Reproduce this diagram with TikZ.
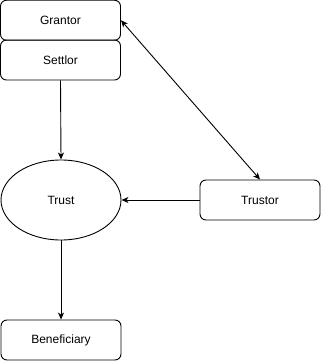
\documentclass[tikz,border=0pt]{standalone}
\usepackage{fontspec}
\setmainfont{Liberation Sans}
\usetikzlibrary{arrows.meta,shapes.geometric}
\begin{document}
\begin{tikzpicture}[x=1pt,y=-1pt,
  box/.style={draw,rounded corners=6pt,minimum width=120pt,minimum height=40pt,inner sep=0pt,line width=0.9pt,font=\fontsize{12}{14}\selectfont},
  oval/.style={draw,ellipse,minimum width=120pt,minimum height=80pt,inner sep=0pt,line width=0.9pt,font=\fontsize{12}{14}\selectfont},
  conn/.style={line width=0.9pt,-{Stealth[length=7pt,width=6pt,inset=2pt]}}]
\useasboundingbox (0,0) rectangle (321,361);
\node[box] (grantor) at (60.5,20.25) {Grantor};
\node[box] (settlor) at (60.5,60) {Settlor};
\node[oval] (trust) at (61,200) {Trust};
\node[box] (trustor) at (260,200) {Trustor};
\node[box] (benef) at (61,340) {Beneficiary};
\draw[conn] (settlor.south) -- (trust.north);
\draw[conn] (trustor.west) -- (trust.east);
\draw[conn] (trust.south) -- (benef.north);
\draw[line width=0.9pt,{Stealth[length=7pt,width=6pt,inset=2pt]}-{Stealth[length=7pt,width=6pt,inset=2pt]}] (grantor.east) -- (trustor.north);
\end{tikzpicture}
\end{document}
